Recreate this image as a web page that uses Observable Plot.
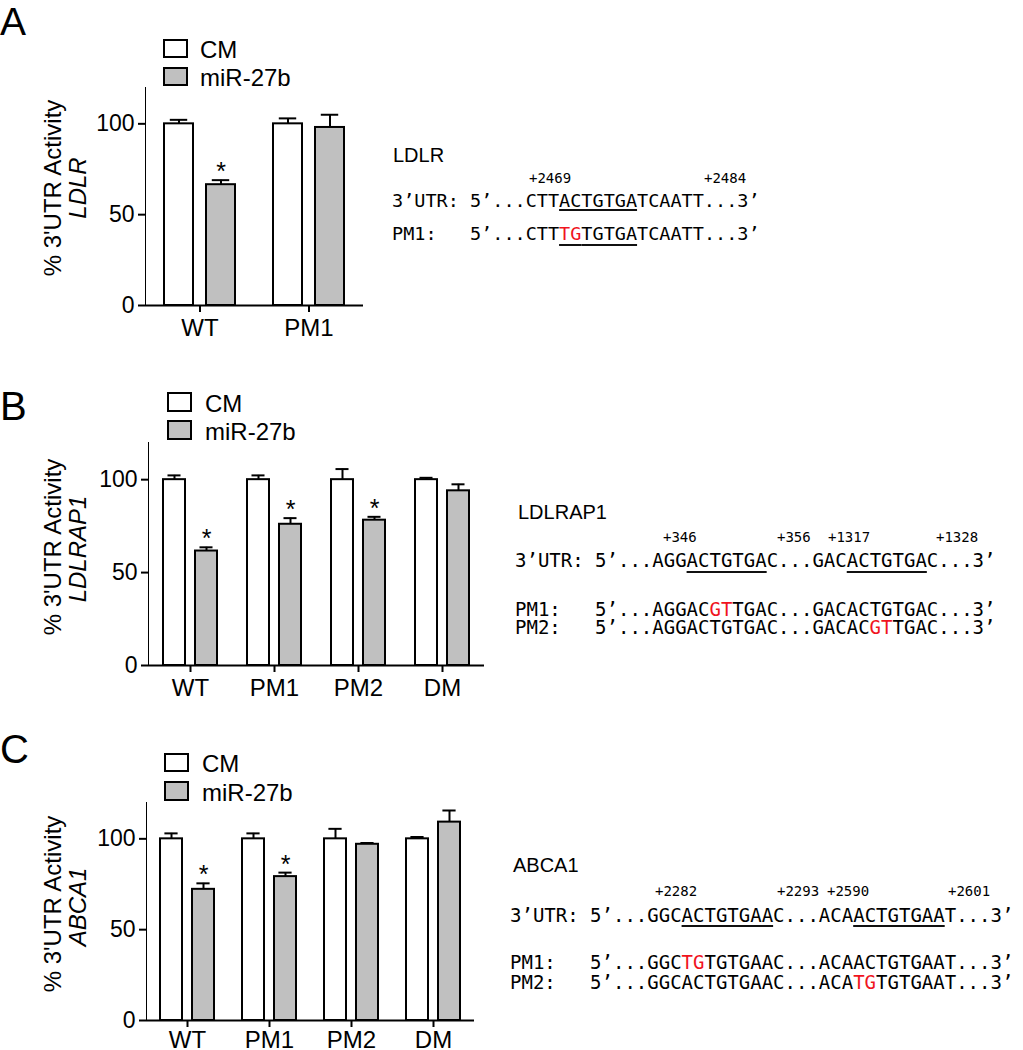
<!DOCTYPE html>
<html><head><meta charset="utf-8">
<script src="https://cdn.jsdelivr.net/npm/d3@7"></script>
<script src="https://cdn.jsdelivr.net/npm/@observablehq/plot@0.6"></script>
<style>
body{margin:0;background:#fff}
#root{position:relative;width:1023px;height:1050px;overflow:hidden;background:#fff;color:#000}
.abs{position:absolute;white-space:pre}
.sans{font-family:"Liberation Sans",Arial,Helvetica,sans-serif}
.mono{font-family:"DejaVu Sans Mono",monospace}
.r{color:#f0141e}
.u{text-decoration:underline;text-decoration-thickness:2px;text-decoration-color:#111}
.box{position:absolute;border:2px solid #000;box-sizing:border-box}
</style></head>
<body><div id="root"></div>
<script>
// ---------- data ----------
const treatments = ["CM", "miR-27b"];
const yTicks = [0, 50, 100];

const groupsA = ["WT", "PM1"];
const cmA = [100, 100];
const cmErrA = [2.2, 3.0];
const mirA = [66.5, 98];
const mirErrA = [2.5, 7];
const sigA = [true, false];

const groupsB = ["WT", "PM1", "PM2", "DM"];
const cmB = [100, 100, 100, 100];
const cmErrB = [2.3, 2.3, 5.7, 1.0];
const mirB = [61.6, 76, 78.2, 94];
const mirErrB = [2.0, 3.3, 1.8, 3.5];
const sigB = [true, true, true, false];

const groupsC = ["WT", "PM1", "PM2", "DM"];
const cmC = [100, 100, 100, 100];
const cmErrC = [3.0, 3.0, 5.5, 1.0];
const mirC = [72.2, 79.2, 97, 109.2];
const mirErrC = [3.3, 2.2, 0.7, 6.4];
const sigC = [true, true, false, false];

// ---------- helpers ----------
const root = document.getElementById("root");
const SANS = '"Liberation Sans", Arial, Helvetica, sans-serif';
const METRICS = {sans: [0.905, 0.212], mono: [0.928, 0.236]};

function makeData(groups, cm, cmErr, mir, mirErr, sig) {
  return groups.flatMap((g, i) => [
    {group: g, t: treatments[0], v: cm[i], e: cmErr[i], sig: false},
    {group: g, t: treatments[1], v: mir[i], e: mirErr[i], sig: sig[i]}
  ]);
}

function chart(data, groups, g) {
  const pi = 0.32, po = 0.44;
  const facetW = (g.width - g.ml - g.mr) / groups.length;
  const bw = facetW / (2 - pi + 2 * po) * (1 - pi);
  const k = bw * 0.2;
  const svg = Plot.plot({
    width: g.width, height: g.height,
    marginLeft: g.ml, marginRight: g.mr, marginTop: g.mt, marginBottom: g.mb,
    style: {fontFamily: SANS, fontSize: "23px", color: "#000", background: "transparent", overflow: "visible"},
    fx: {domain: groups, padding: 0, label: null, tickSize: 7, tickPadding: g.xpad},
    x: {domain: treatments, paddingInner: pi, paddingOuter: po, axis: null},
    y: {domain: [0, 120], ticks: yTicks, tickSize: 7, tickPadding: 4, label: null, line: true},
    color: {domain: treatments, range: ["#ffffff", "#c0c0c0"]},
    marks: [
      Plot.barY(data, {fx: "group", x: "t", y: "v", fill: "t", stroke: "#000", strokeWidth: 2}),
      Plot.ruleX(data, {fx: "group", x: "t", y1: "v", y2: d => d.v + d.e, stroke: "#000", strokeWidth: 2}),
      Plot.tickY(data, {fx: "group", x: "t", y: d => d.v + d.e, stroke: "#000", strokeWidth: 2, insetLeft: k, insetRight: k}),
      Plot.text(data.filter(d => d.sig), {fx: "group", x: "t", y: d => d.v + d.e, text: d => "*", lineAnchor: "bottom", dy: 0, fontSize: 25, fill: "#000"}),
      Plot.ruleY([0], {stroke: "#000", strokeWidth: 2})
    ]
  });
  svg.querySelectorAll("g[aria-label]").forEach(el => {
    const a = el.getAttribute("aria-label");
    if (/axis/.test(a) && !/label/.test(a)) el.setAttribute("stroke-width", "2");
    if (/fx-axis tick label/.test(a)) el.setAttribute("font-size", "24");
  });
  svg.style.position = "absolute";
  svg.style.left = g.left + "px";
  svg.style.top = g.top + "px";
  root.appendChild(svg);
}

// lh may be a unitless multiple or a pixel string; baseline is that of the first line
function textAt(html, cls, x, baseline, fs, lh) {
  lh = lh || 1;
  const lhEm = typeof lh === "string" ? parseFloat(lh) / fs : lh;
  const [A, D] = METRICS[cls];
  const d = document.createElement("div");
  d.className = "abs " + cls;
  d.style.left = x + "px";
  d.style.top = (baseline - ((lhEm - A - D) / 2 + A) * fs) + "px";
  d.style.fontSize = fs + "px";
  d.style.lineHeight = typeof lh === "string" ? lh : String(lh);
  d.innerHTML = html;
  root.appendChild(d);
}

function vlabel(html, cx, cy, fs, italic) {
  const d = document.createElement("div");
  d.className = "abs sans";
  d.style.left = cx + "px";
  d.style.top = cy + "px";
  d.style.fontSize = fs + "px";
  d.style.lineHeight = 1;
  if (italic) d.style.fontStyle = "italic";
  d.style.transform = "translate(-50%,-50%) rotate(-90deg)";
  d.innerHTML = html;
  root.appendChild(d);
}

function box(x, y, w, h, fill) {
  const d = document.createElement("div");
  d.className = "box";
  Object.assign(d.style, {left: x + "px", top: y + "px", width: w + "px", height: h + "px", background: fill});
  root.appendChild(d);
}

function legend(x, y1, y2, h1, h2, tx) {
  box(x, y1, 25, h1, "#ffffff");
  box(x, y2, 25, h2, "#c0c0c0");
  textAt(treatments[0], "sans", tx, y1 + h1, 24, 0.9);
  textAt(treatments[1], "sans", tx, y2 + h2, 24, 0.9);
}

const SEQ_LH = 0.85;

// ---------- Panel A ----------
chart(makeData(groupsA, cmA, cmErrA, mirA, mirErrA, sigA), groupsA,
  {left: 0, top: 0, width: 373, height: 345, ml: 145, mr: 10, mt: 87, mb: 40, xpad: 6});
textAt("A", "sans", 0, 35.5, 39, 0.8);
legend(163, 39, 67, 19, 19, 200);
vlabel("% 3'UTR Activity", 53, 188, 24, false);
vlabel("LDLR", 78, 188, 24, true);
textAt("LDLR", "sans", 393, 162, 20);
textAt("+2469", "mono", 529, 184, 14, SEQ_LH);
textAt("+2484", "mono", 704, 184, 14, SEQ_LH);
textAt("3’UTR: 5’...CTT<span class='u' style='text-underline-offset:2px'>ACTGTGA</span>TCAATT...3’", "mono", 392, 207, 18.5, SEQ_LH);
textAt("PM1:   5’...CTT<span class='u' style='text-underline-offset:4px'><span class='r'>TG</span>TGTGA</span>TCAATT...3’", "mono", 392, 240, 18.5, SEQ_LH);

// ---------- Panel B ----------
chart(makeData(groupsB, cmB, cmErrB, mirB, mirErrB, sigB), groupsB,
  {left: 0, top: 360, width: 495, height: 345, ml: 147, mr: 10, mt: 82, mb: 40, xpad: 6});
textAt("B", "sans", 0, 420, 40, 0.8);
legend(167, 392, 420, 20, 20, 205);
vlabel("% 3'UTR Activity", 53, 547, 24, false);
vlabel("LDLRAP1", 78, 549, 24, true);
textAt("LDLRAP1", "sans", 518, 519, 20);
textAt("+346", "mono", 663, 543, 14, SEQ_LH);
textAt("+356", "mono", 777, 543, 14, SEQ_LH);
textAt("+1317", "mono", 828, 543, 14, SEQ_LH);
textAt("+1328", "mono", 936, 543, 14, SEQ_LH);
textAt("3’UTR: 5’...AGG<span class='u' style='text-underline-offset:4px'>ACTGTGA</span>C...GAC<span class='u' style='text-underline-offset:4px'>ACTGTGA</span>C...3’", "mono", 515, 567, 19, SEQ_LH);
textAt("PM1:   5’...AGGAC<span class='r'>GT</span>TGAC...GACACTGTGAC...3’<br>PM2:   5’...AGGACTGTGAC...GACAC<span class='r'>GT</span>TGAC...3’", "mono", 515, 616, 19, "18px");

// ---------- Panel C ----------
chart(makeData(groupsC, cmC, cmErrC, mirC, mirErrC, sigC), groupsC,
  {left: 0, top: 715, width: 485, height: 335, ml: 144, mr: 10, mt: 87, mb: 30, xpad: 3});
textAt("C", "sans", 0, 763, 40, 0.8);
legend(164, 753, 781, 19, 20, 202);
vlabel("% 3'UTR Activity", 53, 904, 24, false);
vlabel("ABCA1", 78, 907, 24, true);
textAt("ABCA1", "sans", 513, 872, 20);
textAt("+2282", "mono", 655, 897, 14, SEQ_LH);
textAt("+2293", "mono", 777, 897, 14, SEQ_LH);
textAt("+2590", "mono", 827, 897, 14, SEQ_LH);
textAt("+2601", "mono", 948, 897, 14, SEQ_LH);
textAt("3’UTR: 5’...GGC<span class='u' style='text-underline-offset:3px'>ACTGTGAA</span>C...ACA<span class='u' style='text-underline-offset:3px'>ACTGTGAA</span>T...3’", "mono", 510, 922, 19, SEQ_LH);
textAt("PM1:   5’...GGC<span class='r'>TG</span>TGTGAAC...ACAACTGTGAAT...3’<br>PM2:   5’...GGCACTGTGAAC...ACA<span class='r'>TG</span>TGTGAAT...3’", "mono", 510, 969, 19, "20px");
</script>
</body></html>
